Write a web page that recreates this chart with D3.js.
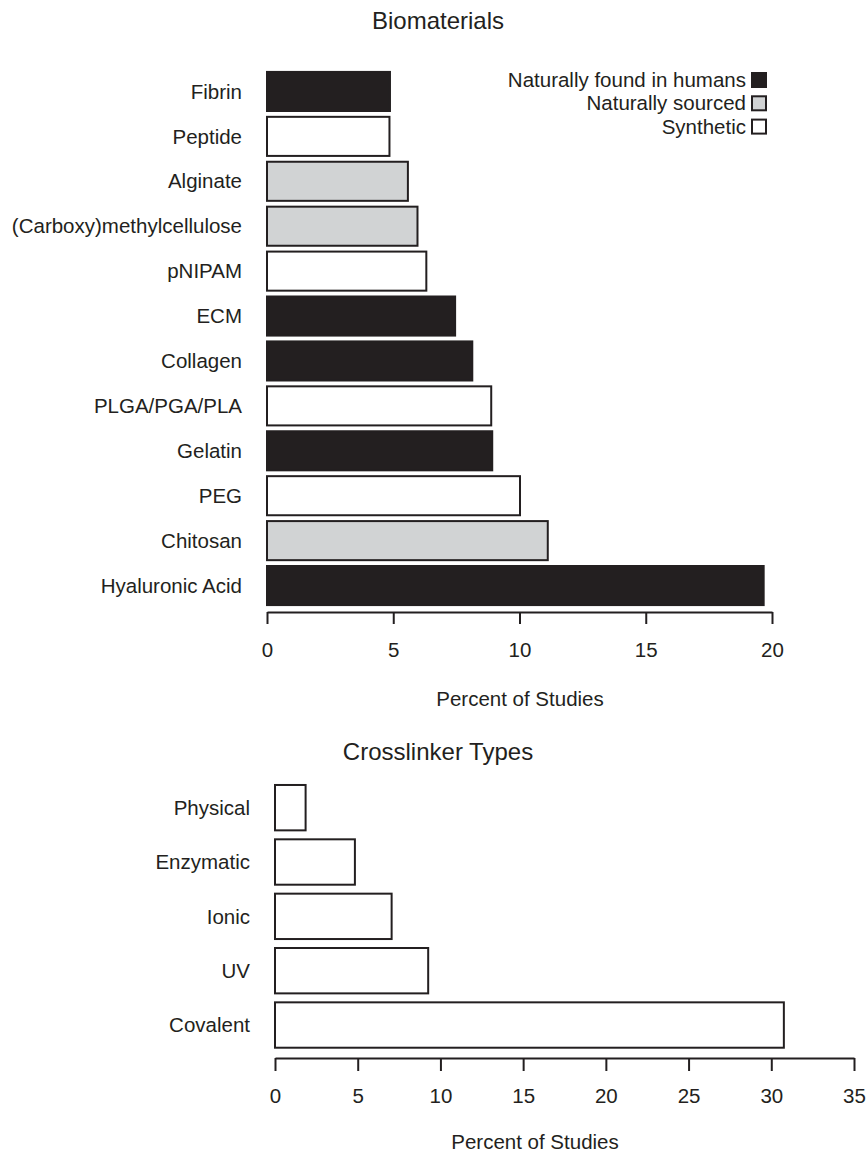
<!DOCTYPE html>
<html>
<head>
<meta charset="utf-8">
<script src="https://cdn.jsdelivr.net/npm/d3@7"></script>
<style>
  body { margin: 0; background: #fff; }
  svg { display: block; }
  text { font-family: "Liberation Sans", Arial, sans-serif; fill: #231f20; }
</style>
</head>
<body>
<svg id="chart" width="866" height="1155"></svg>
<script>
// Biomaterials (top chart), listed top to bottom
const materials = ["Fibrin", "Peptide", "Alginate", "(Carboxy)methylcellulose", "pNIPAM", "ECM",
  "Collagen", "PLGA/PGA/PLA", "Gelatin", "PEG", "Chitosan", "Hyaluronic Acid"];
const materialValues = [4.87, 4.85, 5.58, 5.96, 6.31, 7.45, 8.13, 8.88, 8.92, 10.02, 11.12, 19.67];
const materialTypes = ["human", "synthetic", "sourced", "sourced", "synthetic", "human",
  "human", "synthetic", "human", "synthetic", "sourced", "human"];
const materialTicks = [0, 5, 10, 15, 20];

const legendLabels = ["Naturally found in humans", "Naturally sourced", "Synthetic"];
const legendTypes = ["human", "sourced", "synthetic"];

// Crosslinker types (bottom chart), listed top to bottom
const crosslinkers = ["Physical", "Enzymatic", "Ionic", "UV", "Covalent"];
const crosslinkerValues = [1.85, 4.83, 7.05, 9.26, 30.76];
const crosslinkerTicks = [0, 5, 10, 15, 20, 25, 30, 35];

const INK = "#231f20";
const FS = "20.5px";
const fillFor = d3.scaleOrdinal().domain(["human", "sourced", "synthetic"]).range([INK, "#d1d3d4", "#ffffff"]);

const svg = d3.select("#chart");

// ---------- Top chart ----------
const x1 = d3.scaleLinear().domain([0, 20]).range([267, 772]);
const y1 = d3.scaleBand().domain(materials).range([69, 608]).paddingInner(0.13).paddingOuter(0.065);

svg.append("text").attr("x", 438).attr("y", 28.5).attr("text-anchor", "middle")
  .style("font-size", "24px").text("Biomaterials");

const gTop = svg.append("g");
gTop.selectAll("rect").data(materials).join("rect")
  .attr("x", x1(0))
  .attr("y", d => y1(d))
  .attr("width", (d, i) => x1(materialValues[i]) - x1(0))
  .attr("height", y1.bandwidth())
  .attr("fill", (d, i) => fillFor(materialTypes[i]))
  .attr("stroke", INK).attr("stroke-width", 2);

gTop.selectAll("text.cat").data(materials).join("text")
  .attr("class", "cat")
  .attr("x", 242)
  .attr("y", d => y1(d) + y1.bandwidth() / 2)
  .attr("dy", "0.35em")
  .attr("text-anchor", "end")
  .style("font-size", FS)
  .text(d => d);

const ax1 = svg.append("g").attr("transform", "translate(0,612)")
  .call(d3.axisBottom(x1).tickValues(materialTicks).tickSizeOuter(0).tickSizeInner(12).tickFormat(d3.format("d")));
ax1.select(".domain").attr("stroke", INK).attr("stroke-width", 2);
ax1.selectAll(".tick line").attr("stroke", INK).attr("stroke-width", 2);
ax1.selectAll(".tick text").attr("y", 45).attr("dy", 0).style("font-size", FS)
  .attr("fill", INK).style("font-family", "'Liberation Sans', Arial, sans-serif");

svg.append("text").attr("x", 520).attr("y", 706).attr("text-anchor", "middle")
  .style("font-size", FS).text("Percent of Studies");

// Legend
const leg = svg.append("g");
legendLabels.forEach((lab, i) => {
  const cy = 80 + i * 23.3;
  leg.append("text").attr("x", 746).attr("y", cy).attr("dy", "0.35em")
    .attr("text-anchor", "end").style("font-size", FS).text(lab);
  leg.append("rect").attr("x", 752).attr("y", cy - 7).attr("width", 14).attr("height", 14)
    .attr("fill", fillFor(legendTypes[i])).attr("stroke", INK).attr("stroke-width", 2);
});

// ---------- Bottom chart ----------
const x2 = d3.scaleLinear().domain([0, 35]).range([275, 854]);
const y2 = d3.scaleBand().domain(crosslinkers).range([780.5, 1052.2]).paddingInner(0.165).paddingOuter(0.0825);

svg.append("text").attr("x", 438).attr("y", 760).attr("text-anchor", "middle")
  .style("font-size", "24px").text("Crosslinker Types");

const gBot = svg.append("g");
gBot.selectAll("rect").data(crosslinkers).join("rect")
  .attr("x", x2(0))
  .attr("y", d => y2(d))
  .attr("width", (d, i) => x2(crosslinkerValues[i]) - x2(0))
  .attr("height", y2.bandwidth())
  .attr("fill", "#ffffff")
  .attr("stroke", INK).attr("stroke-width", 2);

gBot.selectAll("text.cat").data(crosslinkers).join("text")
  .attr("class", "cat")
  .attr("x", 250)
  .attr("y", d => y2(d) + y2.bandwidth() / 2)
  .attr("dy", "0.35em")
  .attr("text-anchor", "end")
  .style("font-size", FS)
  .text(d => d);

const ax2 = svg.append("g").attr("transform", "translate(0,1058)")
  .call(d3.axisBottom(x2).tickValues(crosslinkerTicks).tickSizeOuter(0).tickSizeInner(13).tickFormat(d3.format("d")));
ax2.select(".domain").attr("stroke", INK).attr("stroke-width", 2);
ax2.selectAll(".tick line").attr("stroke", INK).attr("stroke-width", 2);
ax2.selectAll(".tick text").attr("y", 45).attr("dy", 0).style("font-size", FS)
  .attr("fill", INK).style("font-family", "'Liberation Sans', Arial, sans-serif");

svg.append("text").attr("x", 535).attr("y", 1149).attr("text-anchor", "middle")
  .style("font-size", FS).text("Percent of Studies");
</script>
</body>
</html>
